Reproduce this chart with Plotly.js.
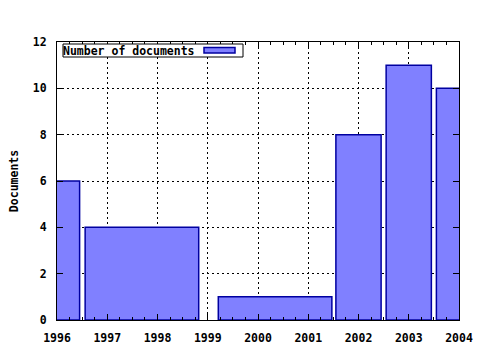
<!DOCTYPE html>
<html>
<head>
<meta charset="utf-8">
<script src="https://cdn.plot.ly/plotly-3.0.1.min.js"></script>
<style>html,body{margin:0;padding:0;background:#fff;}#chart{width:480px;height:350px;}</style>
</head>
<body>
<div id="chart"></div>
<script>
// Data
const seriesName = "Number of documents";
const barCenters = [1996, 1997.69, 2000.34, 2002, 2003, 2004];
const barWidths = [0.9, 2.26, 2.26, 0.9, 0.9, 0.9];
const documents = [6, 4, 1, 8, 11, 10];
const xTicks = [1996, 1997, 1998, 1999, 2000, 2001, 2002, 2003, 2004];
const yTicks = [0, 2, 4, 6, 8, 10, 12];
const yTitle = "Documents";

const W = 480, H = 350;
const M = {l: 57, r: 21, t: 42, b: 30};
const pw = W - M.l - M.r, ph = H - M.t - M.b;
const px = x => (x - M.l) / pw;
const py = y => (H - M.b - y) / ph;

const fontFam = '"DejaVu Sans Mono", "Liberation Mono", monospace';
const fillCol = '#8080ff';
const edgeCol = '#0000a0';

const trace = {
  type: 'bar',
  name: seriesName,
  x: barCenters,
  y: documents,
  width: barWidths,
  marker: {color: fillCol, line: {color: edgeCol, width: 1.5}},
  showlegend: false,
  hoverinfo: 'skip'
};

const axisCommon = {
  showline: true, linecolor: '#000', linewidth: 1,
  mirror: 'allticks', ticks: 'inside', tickcolor: '#000', tickwidth: 1, ticklen: 6,
  showgrid: true, gridcolor: '#000', gridwidth: 1, griddash: '2px,3px',
  zeroline: false,
  tickfont: {family: fontFam, size: 11.5, color: '#000', weight: 'bold'}
};

const layout = {
  width: W, height: H,
  margin: M,
  paper_bgcolor: '#fff', plot_bgcolor: '#fff',
  showlegend: false,
  xaxis: Object.assign({}, axisCommon, {
    range: [xTicks[0], xTicks[xTicks.length - 1]],
    tickmode: 'array', tickvals: xTicks, ticktext: xTicks.map(String),
    ticklabelstandoff: 7,
    minor: {dtick: 0.25, ticks: 'inside', ticklen: 3, tickcolor: '#000', showgrid: false}
  }),
  yaxis: Object.assign({}, axisCommon, {
    range: [yTicks[0], yTicks[yTicks.length - 1]],
    tickmode: 'array', tickvals: yTicks, ticktext: yTicks.map(String),
    ticklabelstandoff: 7,
    title: {text: yTitle, font: {family: fontFam, size: 11.5, color: '#000', weight: 'bold'}, standoff: 11}
  }),
  shapes: [
    {type: 'rect', xref: 'paper', yref: 'paper', x0: px(63), x1: px(243), y0: py(57), y1: py(44),
     line: {color: '#000', width: 1}, fillcolor: '#fff', layer: 'above'},
    {type: 'rect', xref: 'paper', yref: 'paper', x0: px(204), x1: px(235), y0: py(53), y1: py(47.5),
     line: {color: edgeCol, width: 1.5}, fillcolor: fillCol, layer: 'above'}
  ],
  annotations: [
    {xref: 'paper', yref: 'paper', x: px(62), y: py(50.5), xanchor: 'left', yanchor: 'middle',
     text: seriesName, showarrow: false, borderpad: 0,
     font: {family: fontFam, size: 11.5, color: '#000', weight: 'bold'}}
  ]
};

Plotly.newPlot('chart', [trace], layout, {staticPlot: true, displayModeBar: false});
</script>
</body>
</html>
